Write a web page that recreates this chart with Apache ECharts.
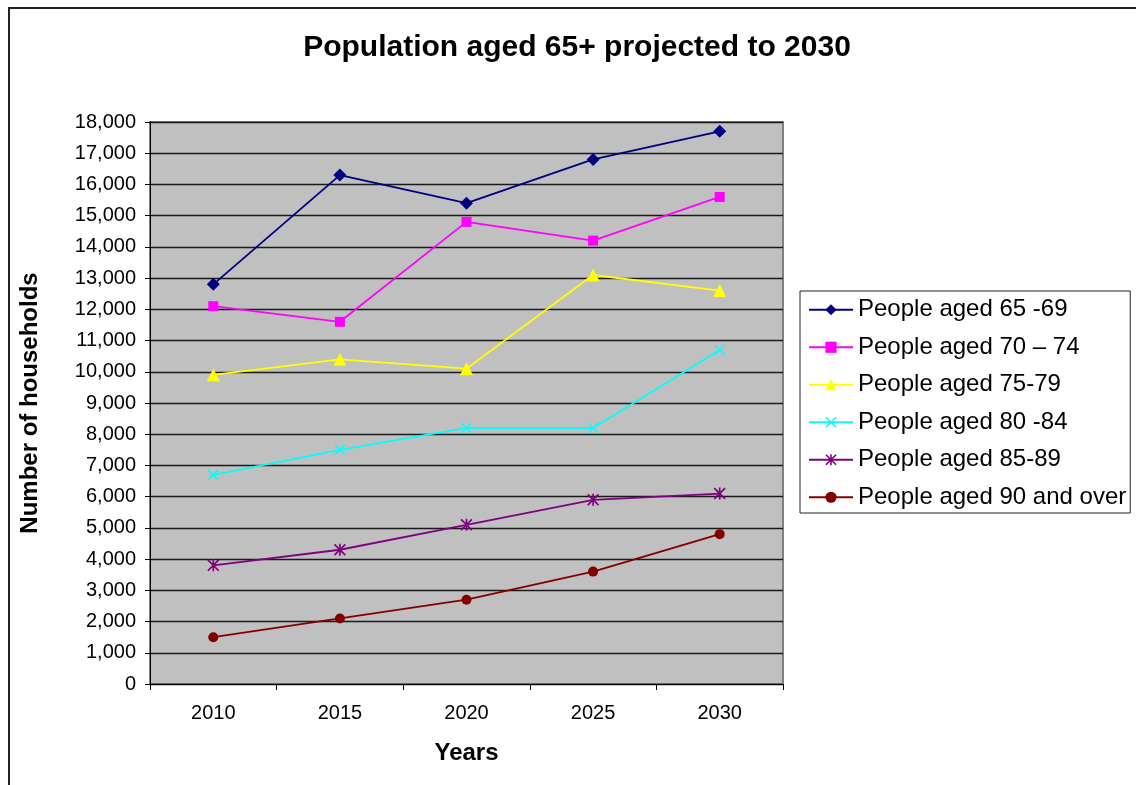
<!DOCTYPE html>
<html>
<head>
<meta charset="utf-8">
<title>Population aged 65+ projected to 2030</title>
<script src="https://cdn.jsdelivr.net/npm/echarts@6/dist/echarts.min.js"></script>
<style>
html,body{margin:0;padding:0;background:#fff}
#chart{width:1136px;height:785px}
</style>
</head>
<body>
<div id="chart"></div>
<script>
// data
var years = ['2010', '2015', '2020', '2025', '2030'];
var seriesNames = ['People aged 65 -69', 'People aged 70 \u2013 74', 'People aged 75-79',
	'People aged 80 -84', 'People aged 85-89', 'People aged 90 and over'];
var aged65 = [12800, 16300, 15400, 16800, 17700];
var aged70 = [12100, 11600, 14800, 14200, 15600];
var aged75 = [9900, 10400, 10100, 13100, 12600];
var aged80 = [6700, 7500, 8200, 8200, 10700];
var aged85 = [3800, 4300, 5100, 5900, 6100];
var aged90 = [1500, 2100, 2700, 3600, 4800];

var colors = ['#000080', '#ff00ff', '#ffff00', '#00ffff', '#800080', '#800000'];
var xMark = 'path://M0,1 L1,0 L10,9 L9,10 Z M9,0 L10,1 L1,10 L0,9 Z';
var starMark = 'path://M0,1 L1,0 L10,9 L9,10 Z M9,0 L10,1 L1,10 L0,9 Z M4.3,0 L5.7,0 L5.7,10 L4.3,10 Z';
var symbols = ['diamond', 'rect', 'triangle', xMark, starMark, 'circle'];
var sizes = [13, 10, 13, 11, 12, 10];
var allData = [aged65, aged70, aged75, aged80, aged85, aged90];

var font = "'Liberation Sans', Arial, sans-serif";
var myChart = echarts.init(document.getElementById('chart'));

var series = [];
$each = function(arr, fn){ for (var i = 0; i < arr.length; i++) fn(i, arr[i]); };
$each(allData, function(i, d){
	series.push({
		name: seriesNames[i],
		type: 'line',
		data: d,
		symbol: symbols[i],
		symbolSize: sizes[i],
		showAllSymbol: true,
		lineStyle: {color: colors[i], width: 1.8},
		itemStyle: {color: colors[i], borderColor: colors[i], borderWidth: 0},
		emphasis: {disabled: true},
		z: 10 - i
	});
});

var option = {
	animation: false,
	backgroundColor: '#fff',
	textStyle: {fontFamily: font},
	title: {
		text: 'Population aged 65+ projected to 2030',
		left: 577,
		top: 33,
		padding: 0,
		textAlign: 'center',
		textStyle: {fontFamily: font, fontSize: 30, fontWeight: 'bold', color: '#000'}
	},
	graphic: [{
		type: 'rect',
		shape: {x: 9, y: 8, width: 1300, height: 1000},
		style: {fill: 'none', stroke: '#222', lineWidth: 2},
		z: -1
	}],
	legend: {
		orient: 'vertical',
		left: 800,
		top: 291,
		padding: [5, 4, 2, 8],
		itemWidth: 44,
		itemHeight: 14,
		itemGap: 10,
		borderColor: '#222',
		borderWidth: 1,
		backgroundColor: '#fff',
		data: seriesNames,
		textStyle: {fontFamily: font, fontSize: 24, color: '#000', lineHeight: 27.5, padding: [0, 0, 0, 0]}
	},
	grid: {
		left: 150,
		top: 122,
		right: 353,
		bottom: 101,
		show: true,
		backgroundColor: '#c0c0c0',
		borderColor: '#808080',
		borderWidth: 2
	},
	xAxis: {
		type: 'category',
		data: years,
		boundaryGap: true,
		name: 'Years',
		nameLocation: 'middle',
		nameGap: 57,
		nameTextStyle: {fontFamily: font, fontSize: 24, fontWeight: 'bold', color: '#000'},
		axisLine: {lineStyle: {color: '#000', width: 1}},
		axisTick: {show: true, length: 6, lineStyle: {color: '#000'}},
		axisLabel: {fontFamily: font, fontSize: 20, color: '#000', margin: 19},
		splitLine: {show: false}
	},
	yAxis: {
		type: 'value',
		min: 0,
		max: 18000,
		interval: 1000,
		name: 'Number of households',
		nameLocation: 'middle',
		nameGap: 108,
		nameTextStyle: {fontFamily: font, fontSize: 24, fontWeight: 'bold', color: '#000'},
		axisLine: {show: true, lineStyle: {color: '#000', width: 1}},
		axisTick: {show: true, length: 5, lineStyle: {color: '#000'}},
		axisLabel: {
			fontFamily: font, fontSize: 20, color: '#000', margin: 14,
			formatter: function(v){ return String(v).replace(/\B(?=(\d{3})+(?!\d))/g, ','); }
		},
		splitLine: {show: true, lineStyle: {color: '#1a1a1a', width: 1.3}}
	},
	series: series
};

myChart.setOption(option, true);
</script>
</body>
</html>
